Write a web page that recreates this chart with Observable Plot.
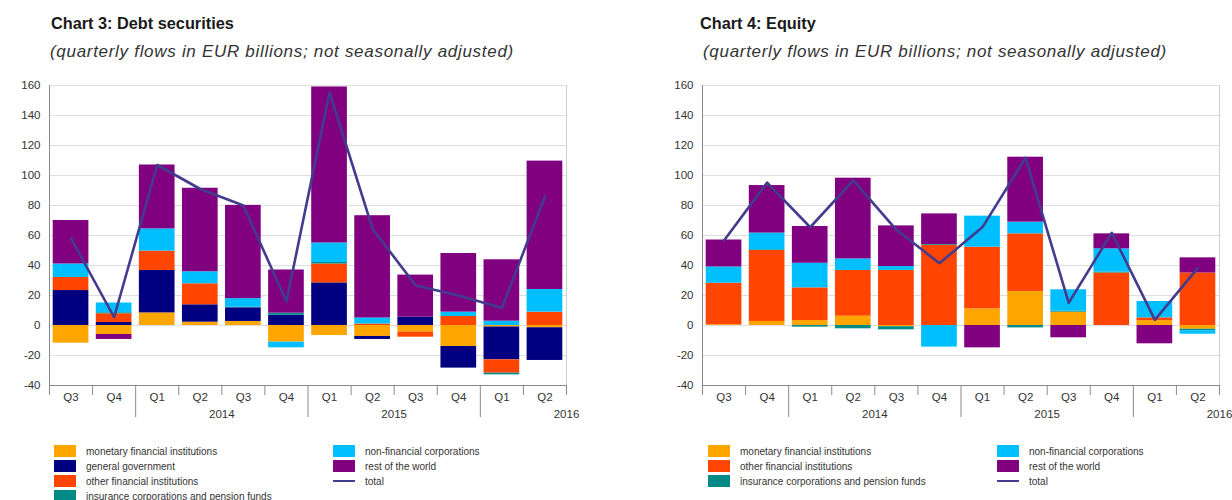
<!DOCTYPE html>
<html><head><meta charset="utf-8">
<script src="https://cdn.jsdelivr.net/npm/d3@7"></script>
<script src="https://cdn.jsdelivr.net/npm/@observablehq/plot@0.6"></script>
<style>
body{margin:0;background:#fff;width:1232px;height:500px;overflow:hidden;position:relative;font-family:"Liberation Sans",Arial,sans-serif;color:#222}
.abs{position:absolute;white-space:nowrap}
.title{font-weight:bold;font-size:16.3px;line-height:16px;color:#1a1a1a}
.sub{font-style:italic;font-size:17px;line-height:17px;letter-spacing:0.7px;color:#333}
.leg{font-size:10px;line-height:12px;color:#333}
.sw{position:absolute;width:22px;height:11.5px}
</style></head><body>
<script>
// ---------- data ----------
const periods = ["2013Q3","2013Q4","2014Q1","2014Q2","2014Q3","2014Q4","2015Q1","2015Q2","2015Q3","2015Q4","2016Q1","2016Q2"];
const quarterLabels = ["Q3","Q4","Q1","Q2","Q3","Q4","Q1","Q2","Q3","Q4","Q1","Q2"];
const yearLabels = ["2014","2015","2016"];
const yTicks = [-40,-20,0,20,40,60,80,100,120,140,160];

// Chart 3: Debt securities (EUR billions)
const debtMFI   = [-11.8, -6.0,  8.4,  2.2,  2.7, -11.1, -6.7, -7.3, -4.4, -14.0, -1.0, -1.5];
const debtGG    = [ 23.3,  2.0, 28.3, 11.6,  9.1,   6.9, 28.4, -2.0,  5.6, -14.4, -21.9, -21.8];
const debtOFI   = [  8.7,  5.8, 12.9, 14.0,  0.0,   0.0, 12.6,  1.0, -3.4,   6.0, -8.9,  8.9];
const debtICPF  = [  0.0,  0.7,  0.0,  0.0,  0.5,   1.3,  1.0,  0.0,  0.0,   0.0, -1.1,  0.0];
const debtNFC   = [  9.0,  6.5, 14.8,  8.0,  5.6,  -3.8, 13.0,  4.0,  0.0,   2.9,  2.9, 15.1];
const debtROW   = [ 29.0, -3.3, 42.6, 55.7, 62.2,  28.8,104.0, 68.2, 28.0,  39.1, 40.9, 85.6];
const debtTotal = [ 58.0,  5.5,107.0, 91.0, 80.0,  16.0,155.5, 64.4, 26.7,  20.0, 11.6, 86.0];

// Chart 4: Equity (EUR billions)
const eqMFI   = [ 0.5,  2.7,  3.3,  6.2, -0.8,  0.0, 11.1, 22.7,  8.9,  0.0,  3.3, -2.5];
const eqOFI   = [27.7, 47.3, 21.8, 30.5, 36.7, 53.5, 41.1, 38.4,  0.0, 35.0,  1.8, 35.0];
const eqICPF  = [ 0.0,  0.5, -1.1, -2.2, -2.1,  0.5,  0.0, -1.6,  0.6,  0.6,  0.0, -1.0];
const eqNFC   = [10.8, 11.1, 16.4,  7.7,  2.6,-14.4, 20.7,  7.8, 14.3, 15.5, 10.9, -2.3];
const eqROW   = [18.0, 31.7, 24.5, 53.8, 27.1, 20.4,-14.9, 43.3, -8.2, 10.0,-12.2, 10.1];
const eqTotal = [56.7, 95.3, 65.5, 96.7, 63.8, 41.5, 65.6,111.8, 15.1, 61.8,  3.8, 38.4];

const sectorNames = {
  mfi: "monetary financial institutions",
  gg: "general government",
  ofi: "other financial institutions",
  icpf: "insurance corporations and pension funds",
  nfc: "non-financial corporations",
  row: "rest of the world",
  total: "total"
};
const sectorColors = {mfi:"#FFA500", gg:"#000080", ofi:"#FF4500", icpf:"#008B87", nfc:"#00BFFF", row:"#800080", total:"#433B8E"};

// ---------- layout ----------
const FONT = '"Liberation Sans", Arial, sans-serif';
const PLOT_W = 517, FRAME_H = 300;
const yearTickAt = [2, 6, 10];        // boundaries between Q4 and Q1
const yearLabelAt = [4, 8, 12];

function addDiv(cls, text, left, top, extra) {
  const d = document.createElement("div");
  d.className = "abs " + cls;
  d.textContent = text;
  d.style.left = left + "px"; d.style.top = top + "px";
  if (extra) Object.assign(d.style, extra);
  document.body.appendChild(d);
  return d;
}

function chart(series, totals, left, top, width) {
  const keys = series.map(s => s.key);
  const rows = [];
  periods.forEach((p, i) => series.forEach(s => rows.push({i, period: p, key: s.key, value: s.values[i]})));
  const allBounds = d3.range(0, 13);
  const shortBounds = allBounds.filter(b => !yearTickAt.includes(b));
  const svg = Plot.plot({
    width, height: 360,
    marginLeft: 49, marginRight: width - 49 - PLOT_W, marginTop: 15, marginBottom: 45,
    style: {fontFamily: FONT, fontSize: "11.5px", color: "#333", overflow: "visible", background: "transparent"},
    x: {domain: [0, 12], axis: null},
    y: {domain: [-40, 160], ticks: yTicks, tickSize: 0, tickPadding: 9, label: null, tickFormat: d => String(d)},
    color: {domain: keys, range: keys.map(k => sectorColors[k])},
    marks: [
      Plot.ruleY(yTicks, {stroke: "#dedede", strokeWidth: 1}),
      Plot.ruleX([12], {stroke: "#cfcfcf"}),
      Plot.rectY(rows, {x1: "i", x2: d => d.i + 1, y: "value", fill: "key", insetLeft: 3.7, insetRight: 3.7}),
      Plot.line(totals, {x: (d, i) => i + 0.5, y: d => d, stroke: sectorColors.total, strokeWidth: 2.6}),
      Plot.ruleX([0], {stroke: "#8a8a8a"}),
      Plot.ruleY([-40], {stroke: "#8a8a8a"}),
      Plot.ruleX(shortBounds, {x: d => d, stroke: "#8a8a8a", insetTop: FRAME_H, insetBottom: -10}),
      Plot.ruleX(yearTickAt, {x: d => d, stroke: "#8a8a8a", insetTop: FRAME_H, insetBottom: -32}),
      Plot.text(quarterLabels, {x: (d, i) => i + 0.5, text: d => d, frameAnchor: "bottom", dy: 15, fill: "#333"}),
      Plot.text(yearLabels, {x: (d, i) => yearLabelAt[i], text: d => d, frameAnchor: "bottom", dy: 32, fill: "#333"})
    ]
  });
  svg.style.position = "absolute";
  svg.style.left = left + "px";
  svg.style.top = top + "px";
  document.body.appendChild(svg);
}

function legend(cols, x0, x1) {
  cols.forEach((col, c) => {
    const sx = c === 0 ? x0 : x1;
    col.forEach((k, r) => {
      const y = 445 + 15 * r;
      const sw = document.createElement("div");
      sw.className = "sw";
      sw.style.left = sx + "px";
      if (k === "total") {
        sw.style.top = (y + 4.5) + "px"; sw.style.height = "2.6px";
      } else {
        sw.style.top = y + "px";
      }
      sw.style.background = sectorColors[k];
      document.body.appendChild(sw);
      addDiv("leg", sectorNames[k], sx + 32, y + 1);
    });
  });
}

// Titles
addDiv("title", "Chart 3: Debt securities", 51, 14.5);
addDiv("sub", "(quarterly flows in EUR billions; not seasonally adjusted)", 50, 43);
addDiv("title", "Chart 4: Equity", 700, 14.5);
addDiv("sub", "(quarterly flows in EUR billions; not seasonally adjusted)", 703, 43);

chart([
  {key: "mfi", values: debtMFI}, {key: "gg", values: debtGG}, {key: "ofi", values: debtOFI},
  {key: "icpf", values: debtICPF}, {key: "nfc", values: debtNFC}, {key: "row", values: debtROW}
], debtTotal, 0, 70, 600);

chart([
  {key: "mfi", values: eqMFI}, {key: "ofi", values: eqOFI}, {key: "icpf", values: eqICPF},
  {key: "nfc", values: eqNFC}, {key: "row", values: eqROW}
], eqTotal, 653, 70, 579);

legend([["mfi","gg","ofi","icpf"],["nfc","row","total"]], 54, 333);
legend([["mfi","ofi","icpf"],["nfc","row","total"]], 708, 997);
</script>
</body></html>
